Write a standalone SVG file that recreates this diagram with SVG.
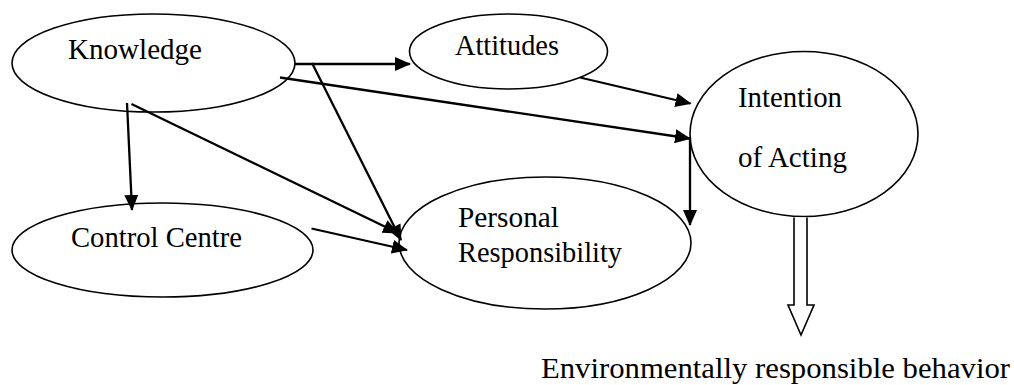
<svg xmlns="http://www.w3.org/2000/svg" width="1014" height="385" viewBox="0 0 1014 385" font-family="'Liberation Serif', 'Times New Roman', Times, 'DejaVu Serif', serif">
  <style>
    .node { fill: #ffffff; stroke: #000000; stroke-width: 1.6; }
    .label { font-family: 'Liberation Serif', 'Times New Roman', Times, 'DejaVu Serif', serif; font-size: 29px; fill: #000000; }
    .edge { stroke: #000000; stroke-width: 2.3; fill: none; }
    .block { fill: #ffffff; stroke: #000000; stroke-width: 1.6; stroke-linejoin: miter; }
  </style>
  <defs>
    <marker id="arrow" markerUnits="userSpaceOnUse" markerWidth="17" markerHeight="15" refX="15" refY="7" orient="auto">
      <path d="M0,0 L16,7 L0,14 z" fill="#000000"/>
    </marker>
  </defs>
  <rect width="1014" height="385" fill="#ffffff"/>

  <g id="knowledge">
    <ellipse class="node" cx="153.5" cy="63" rx="141.5" ry="49"/>
    <text class="label" x="68" y="59" textLength="134" lengthAdjust="spacingAndGlyphs">Knowledge</text>
  </g>

  <g id="attitudes">
    <ellipse class="node" cx="508.5" cy="51.5" rx="99" ry="37.5"/>
    <text class="label" x="455" y="55" textLength="104" lengthAdjust="spacingAndGlyphs">Attitudes</text>
  </g>

  <g id="intention">
    <ellipse class="node" cx="804" cy="134" rx="114" ry="82.5"/>
    <text class="label" x="738" y="107" textLength="104" lengthAdjust="spacingAndGlyphs">Intention</text>
    <text class="label" x="738" y="167" textLength="109" lengthAdjust="spacingAndGlyphs">of Acting</text>
  </g>

  <g id="control-centre">
    <ellipse class="node" cx="162.5" cy="250" rx="150.5" ry="47"/>
    <text class="label" x="71" y="247" textLength="171" lengthAdjust="spacingAndGlyphs">Control Centre</text>
  </g>

  <g id="personal-responsibility">
    <ellipse class="node" cx="545" cy="243" rx="146" ry="66"/>
    <text class="label" x="458" y="227" textLength="101" lengthAdjust="spacingAndGlyphs">Personal</text>
    <text class="label" x="458" y="262" textLength="164" lengthAdjust="spacingAndGlyphs">Responsibility</text>
  </g>

  <g id="behavior">
    <text class="label" x="541" y="378" textLength="469" lengthAdjust="spacingAndGlyphs">Environmentally responsible behavior</text>
  </g>

  <g id="connectors">
    <!-- Knowledge to Attitudes -->
    <line class="edge" x1="295" y1="64" x2="410" y2="64" marker-end="url(#arrow)"/>
    <!-- Knowledge to Intention of Acting -->
    <line class="edge" x1="280" y1="77.5" x2="690" y2="138.5" marker-end="url(#arrow)"/>
    <!-- Attitudes to Intention of Acting -->
    <line class="edge" x1="580" y1="77.5" x2="690.5" y2="103.5" marker-end="url(#arrow)"/>
    <!-- Knowledge to Control Centre -->
    <line class="edge" x1="127" y1="103" x2="132" y2="210" marker-end="url(#arrow)"/>
    <!-- Knowledge to Personal Responsibility (two paths) -->
    <line class="edge" x1="131.5" y1="104" x2="398" y2="233" marker-end="url(#arrow)"/>
    <line class="edge" x1="312" y1="63" x2="401" y2="240" marker-end="url(#arrow)"/>
    <!-- Control Centre to Personal Responsibility -->
    <line class="edge" x1="311.5" y1="228.5" x2="407" y2="250" marker-end="url(#arrow)"/>
    <!-- Intention of Acting to Personal Responsibility -->
    <line class="edge" x1="690" y1="137" x2="690" y2="225" marker-end="url(#arrow)"/>
    <!-- Intention of Acting to behaviour (hollow block arrow) -->
    <path class="block" d="M794,217.5 V305 H788 L801,335 L814,305 H807 V217.5"/>
  </g>
</svg>
